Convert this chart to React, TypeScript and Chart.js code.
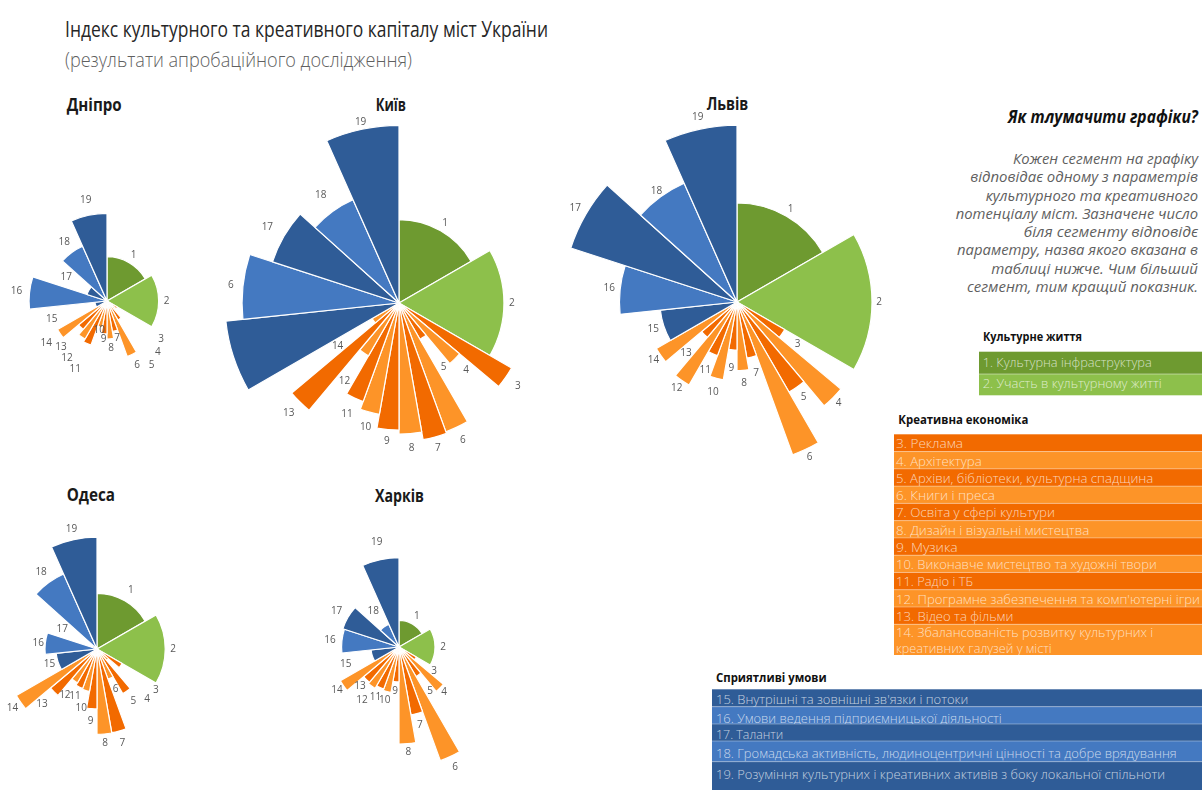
import React, { useEffect, useRef } from "react";
import { Chart, registerables } from "chart.js";

Chart.register(...registerables);

// ---------------- data ----------------
const categories = ["1", "2", "3", "4", "5", "6", "7", "8", "9", "10", "11", "12", "13", "14", "15", "16", "17", "18", "19"];
// angular share of every parameter (degrees)
const segmentAngles = [60, 60, 10, 10, 10, 10, 10, 10, 10, 10, 10, 10, 10, 10, 24, 24, 24, 24, 24];

const dniproValues = [24.6, 28.7, 6.7, 5.6, 12.2, 32.8, 17.2, 21.1, 18.3, 15.0, 26.1, 24.4, 20.6, 31.7, 6.7, 43.3, 11.7, 33.3, 48.7];
const kyivValues = [46.3, 58.3, 72.2, 43.9, 23.3, 76.1, 77.1, 72.8, 70.6, 62.8, 58.3, 33.9, 77.8, 17.2, 96.7, 87.2, 73.9, 62.8, 98.7];
const lvivValues = [55.0, 75.0, 30.6, 75.3, 57.8, 90.3, 31.7, 38.1, 26.7, 43.9, 31.7, 53.3, 25.6, 51.7, 42.8, 65.3, 97.1, 72.2, 98.2];
const odesaValues = [30.9, 37.9, 16.1, 8.3, 28.6, 17.8, 47.2, 47.4, 33.3, 23.9, 23.3, 21.7, 33.7, 51.7, 22.8, 28.9, 2.8, 45.6, 62.1];
const kharkivValues = [14.8, 20.0, 11.1, 32.2, 18.9, 67.2, 38.3, 53.9, 19.4, 25.6, 24.8, 26.5, 25.6, 37.6, 15.6, 31.9, 32.8, 13.9, 49.6];

// segment labels as printed on the picture
const kyivSegmentLabels = ["1", "2", "3", "4", "5", "6", "7", "8", "9", "10", "11", "12", "13", "14", "", "6", "17", "18", "19"];

const titleText = "Індекс культурного та креативного капіталу міст України";
const subtitleText = "(результати апробаційного дослідження)";
const helpTitle = "Як тлумачити графіки?";
const helpLines = [
  "Кожен сегмент на графіку",
  "відповідає одному з параметрів",
  "культурного та креативного",
  "потенціалу міст. Зазначене число",
  "біля сегменту відповідє",
  "параметру, назва якого вказана в",
  "таблиці нижче. Чим більший",
  "сегмент, тим кращий показник.",
];
const groupCulture = "Культурне життя";
const groupCreative = "Креативна економіка";
const groupConditions = "Сприятливі умови";
const cultureNames = ["1. Культурна інфраструктура", "2. Участь в культурному житті"];
const creativeNames = [
  "3. Реклама",
  "4. Архітектура",
  "5. Архіви, бібліотеки, культурна спадщина",
  "6. Книги і преса",
  "7. Освіта у сфері культури",
  "8. Дизайн і візуальні мистецтва",
  "9. Музика",
  "10. Виконавче мистецтво та художні твори",
  "11. Радіо і ТБ",
  "12. Програмне забезпечення та комп'ютерні ігри",
  "13. Відео та фільми",
];
const creativeLast = ["14. Збалансованість розвитку культурних і", "креативних галузей у місті"];
const conditionNames = [
  "15. Внутрішні та зовнішні зв'язки і потоки",
  "16. Умови ведення підприємницької діяльності",
  "17. Таланти",
  "18. Громадська активність, людиноцентричні цінності та добре врядування",
  "19. Розуміння культурних і креативних активів з боку локальної спільноти",
];

// ---------------- styles / layout ----------------
const GREEN_DARK = "#6e9a30";
const GREEN_LIGHT = "#8dc04b";
const ORANGE_DARK = "#f26a00";
const ORANGE_LIGHT = "#fd9428";
const BLUE_DARK = "#2f5c97";
const BLUE_LIGHT = "#4479c1";

const segmentColors = categories.map((_, i) =>
  i < 2 ? (i === 0 ? GREEN_DARK : GREEN_LIGHT) : i < 14 ? (i % 2 === 0 ? ORANGE_DARK : ORANGE_LIGHT) : i % 2 === 0 ? BLUE_DARK : BLUE_LIGHT
);

const PX_PER_UNIT = 1.8;
const FONT = "'Open Sans', 'Noto Sans', 'DejaVu Sans', sans-serif";

const cityLayouts = [
  { name: "Дніпро", values: dniproValues, labels: categories, cx: 107, cy: 301, half: 112, tx: 94.2, ty: 110.7, tw: 55,
    gaps: [9, 8, 54, 62, 56, 12, 8, 9, 5, 3, 28, 26, 28, 17, 46, 13, 26, 13, 15] },
  { name: "Київ", values: kyivValues, labels: kyivSegmentLabels, cx: 399, cy: 303, half: 200, tx: 390.8, ty: 110.7, tw: 30.3,
    gaps: [9, 8, 15, 16, 36, 14, 11, 15, 12, 16, 18, 34, 16, 44, 12, 12, 19, 20, 7] },
  { name: "Львів", values: lvivValues, labels: categories, cx: 737, cy: 302, half: 200, tx: 727.5, ty: 110, tw: 41.7,
    gaps: [8, 7, 19, 8, 12, 9, 17, 13, 18, 14, 18, 9, 26, 9, 11, 11, 12, 7, 12] },
  { name: "Одеса", values: odesaValues, labels: categories, cx: 97, cy: 649, half: 135, tx: 90.8, ty: 500.7, tw: 48.3,
    gaps: [12, 8, 43, 56, 12, 12, 13, 9, 12, 18, 10, 17, 17, 10, 9, 7, 35, 13, 11] },
  { name: "Харків", values: kharkivValues, labels: categories, cx: 399, cy: 647, half: 145, tx: 399.5, ty: 501.7, tw: 49,
    gaps: [9, 8, 23, 6, 20, 12, 12, 9, 9, 9, 11, 17, 9, 8, 28, 12, 13, 19, 18] },
];

const helpWidths = [185, 227.7, 212.3, 242.3, 174.3, 241, 206.7, 231];
const cultureWidths = [169, 179];
const creativeWidths = [67, 85.7, 257.3, 99, 159, 193.3, 61.7, 260.7, 77.3, 304, 117.3];
const creativeLastWidths = [257.3, 155.7];
const conditionWidths = [252.3, 285.7, 67.3, 460.7, 449];

function CityChart({ city }: { city: any }) {
  const ref = useRef<HTMLCanvasElement>(null);
  const size = city.half * 2;
  useEffect(() => {
    const labelPlugin = {
      id: "segmentLabels",
      afterDatasetsDraw(chart: any) {
        const ctx = chart.ctx;
        const meta = chart.getDatasetMeta(0);
        ctx.save();
        ctx.font = `10px ${FONT}`;
        ctx.fillStyle = "#595959";
        ctx.textAlign = "center";
        ctx.textBaseline = "middle";
        meta.data.forEach((el: any, i: number) => {
          const text = city.labels[i];
          if (!text) return;
          const p = el.getProps(["x", "y", "startAngle", "endAngle", "outerRadius"], true);
          const mid = (p.startAngle + p.endAngle) / 2;
          const r = p.outerRadius + city.gaps[i];
          ctx.fillText(text, p.x + Math.cos(mid) * r, p.y + Math.sin(mid) * r);
        });
        ctx.restore();
      },
    };
    const chart = new Chart(ref.current as HTMLCanvasElement, {
      type: "polarArea",
      data: {
        labels: categories,
        datasets: [
          {
            data: city.values,
            angle: segmentAngles,
            backgroundColor: segmentColors,
            borderColor: "#ffffff",
            borderWidth: 1.2,
          } as any,
        ],
      },
      options: {
        responsive: false,
        maintainAspectRatio: false,
        animation: false,
        layout: { padding: 0 },
        plugins: { legend: { display: false }, tooltip: { enabled: false } },
        scales: { r: { display: false, min: 0, max: city.half / PX_PER_UNIT } },
      } as any,
      plugins: [labelPlugin],
    });
    return () => chart.destroy();
  }, []);
  return (
    <canvas
      ref={ref}
      width={size}
      height={size}
      style={{ position: "absolute", left: city.cx - city.half, top: city.cy - city.half, width: size, height: size }}
    />
  );
}

function T(props: any) {
  const { x, y, w, size, anchor = "start", weight = 400, italic = false, fill = "#222", opacity = 1, children } = props;
  return (
    <text
      x={x}
      y={y}
      fontFamily={FONT}
      fontSize={size}
      fontWeight={weight}
      fontStyle={italic ? "italic" : "normal"}
      fill={fill}
      fillOpacity={opacity}
      textAnchor={anchor}
      textLength={w}
      lengthAdjust="spacingAndGlyphs"
    >
      {children}
    </text>
  );
}

const ROW_TEXT = "#ffffff";
const ROW_OPACITY = 0.72;

export default function App() {
  const orangeTop = 434.3;
  const orangeH = 17.27;
  const blueRows = [
    [689.3, 706.7, 704],
    [706.7, 724, 722.5],
    [724, 741, 739.3],
    [741, 761.7, 757.8],
    [761.7, 790, 779],
  ];
  return (
    <div style={{ position: "absolute", left: 0, top: 0, width: 1202, height: 790, overflow: "hidden", background: "#ffffff" }}>
      <svg width={1202} height={790} style={{ position: "absolute", left: 0, top: 0 }}>
        <T x={65} y={37.4} w={483} size={21} fill="#262626">{titleText}</T>
        <T x={65} y={66.5} w={347} size={21} weight={300} fill="#5f5f5f">{subtitleText}</T>

        {cityLayouts.map((c) => (
          <T key={c.name} x={c.tx} y={c.ty} w={c.tw} size={17} weight={700} anchor="middle" fill="#1a1a1a">{c.name}</T>
        ))}

        <T x={1198} y={123.3} w={190} size={17} weight={700} italic anchor="end" fill="#111">{helpTitle}</T>
        {helpLines.map((line, i) => (
          <T key={i} x={1198} y={164 + i * 18.25} w={helpWidths[i]} size={14} italic anchor="end" fill="#5f5f5f">{line}</T>
        ))}

        <T x={983} y={341} w={99} size={13} weight={700} fill="#111">{groupCulture}</T>
        <rect x={979} y={351.7} width={223} height={22.3} fill={GREEN_DARK} />
        <rect x={979} y={374} width={223} height={21.3} fill={GREEN_LIGHT} />
        <line x1={979} x2={1202} y1={374} y2={374} stroke="#ffffff" strokeOpacity={0.45} strokeWidth={1} />
        <T x={982.7} y={366.7} w={cultureWidths[0]} size={13} weight={300} fill={ROW_TEXT} opacity={ROW_OPACITY}>{cultureNames[0]}</T>
        <T x={982.7} y={388.3} w={cultureWidths[1]} size={13} weight={300} fill={ROW_TEXT} opacity={ROW_OPACITY}>{cultureNames[1]}</T>

        <T x={898.3} y={424.3} w={130} size={13} weight={700} fill="#111">{groupCreative}</T>
        {creativeNames.map((name, i) => {
          const top = orangeTop + i * orangeH;
          return (
            <g key={name}>
              <rect x={894} y={top} width={308} height={orangeH} fill={i % 2 === 0 ? ORANGE_DARK : ORANGE_LIGHT} />
              {i > 0 && <line x1={894} x2={1202} y1={top} y2={top} stroke="#ffffff" strokeOpacity={0.35} strokeWidth={1} />}
              <T x={896} y={top + 14} w={creativeWidths[i]} size={13} weight={300} fill={ROW_TEXT} opacity={ROW_OPACITY}>{name}</T>
            </g>
          );
        })}
        <rect x={894} y={orangeTop + 11 * orangeH} width={308} height={655 - (orangeTop + 11 * orangeH)} fill={ORANGE_LIGHT} />
        <line x1={894} x2={1202} y1={orangeTop + 11 * orangeH} y2={orangeTop + 11 * orangeH} stroke="#ffffff" strokeOpacity={0.35} strokeWidth={1} />
        <T x={896} y={637.2} w={creativeLastWidths[0]} size={13} weight={300} fill={ROW_TEXT} opacity={ROW_OPACITY}>{creativeLast[0]}</T>
        <T x={896} y={653.3} w={creativeLastWidths[1]} size={13} weight={300} fill={ROW_TEXT} opacity={ROW_OPACITY}>{creativeLast[1]}</T>

        <T x={716} y={681.7} w={110.7} size={13} weight={700} fill="#111">{groupConditions}</T>
        {conditionNames.map((name, i) => {
          const [top, bottom, base] = blueRows[i];
          return (
            <g key={name}>
              <rect x={712} y={top} width={490} height={bottom - top} fill={i % 2 === 0 ? BLUE_DARK : BLUE_LIGHT} />
              {i > 0 && <line x1={712} x2={1202} y1={top} y2={top} stroke="#ffffff" strokeOpacity={0.35} strokeWidth={1} />}
              <T x={716} y={base} w={conditionWidths[i]} size={13} weight={300} fill={ROW_TEXT} opacity={ROW_OPACITY}>{name}</T>
            </g>
          );
        })}
      </svg>
      {cityLayouts.map((c) => (
        <CityChart key={c.name} city={c} />
      ))}
    </div>
  );
}
